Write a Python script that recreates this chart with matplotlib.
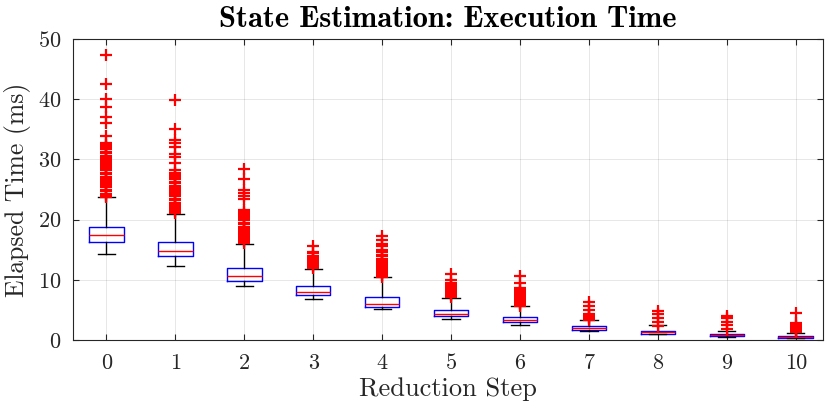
import matplotlib
matplotlib.use("Agg")
import matplotlib.pyplot as plt

plt.rcParams['font.family'] = ['cmr10', 'DejaVu Serif']
plt.rcParams['axes.formatter.use_mathtext'] = True

steps = [0, 1, 2, 3, 4, 5, 6, 7, 8, 9, 10]
q1 = [16.3, 14.0, 9.85, 7.55, 5.48, 3.99, 2.93, 1.72, 1.05, 0.61, 0.39]
med = [17.4, 14.8, 10.7, 7.95, 6.03, 4.25, 3.32, 1.99, 1.33, 0.83, 0.58]
q3 = [18.8, 16.3, 11.9, 9.0, 7.2, 5.04, 3.82, 2.27, 1.55, 1.05, 0.72]
whislo = [14.3, 12.3, 8.9, 6.8, 5.1, 3.55, 2.55, 1.55, 0.94, 0.5, 0.28]
whishi = [23.7, 20.9, 16.0, 11.8, 10.5, 7.03, 5.65, 3.32, 2.5, 1.55, 1.1]
outliers = [
    [47.3, 42.5, 40.1, 38.7, 37.0, 36.1, 33.9, 32.7, 32.4, 32.0, 31.7, 31.3, 31.0,
     30.6, 30.3, 29.9, 29.6, 29.2, 28.9, 28.5, 28.2, 27.8, 27.5, 27.1, 26.8, 26.4,
     26.1, 25.7, 25.4, 25.0, 24.7, 24.3, 24.0, 23.8],
    [39.8, 35.1, 33.3, 32.8, 32.0, 30.9, 30.4, 29.4, 28.3, 27.7, 27.4, 27.0, 26.7,
     26.3, 26.0, 25.6, 25.3, 24.9, 24.6, 24.2, 23.9, 23.5, 23.2, 22.8, 22.5, 22.1,
     21.8, 21.4, 21.1],
    [28.4, 26.7, 24.9, 24.5, 24.0, 23.4, 21.6, 21.3, 20.9, 20.6, 20.2, 19.9, 19.5,
     19.2, 18.8, 18.5, 18.1, 17.8, 17.4, 17.1, 16.7, 16.4, 16.1],
    [15.6, 14.7, 14.4, 14.0, 13.7, 13.3, 13.0, 12.6, 12.3, 11.9],
    [17.3, 16.6, 15.95, 15.6, 14.95, 14.6, 14.2, 13.9, 13.5, 13.2, 12.8, 12.5,
     12.1, 11.8, 11.4, 11.1, 10.8, 10.5],
    [10.9, 9.97, 9.5, 9.2, 8.9, 8.6, 8.3, 8.0, 7.7, 7.4, 7.1],
    [10.6, 9.4, 8.6, 8.3, 8.0, 7.7, 7.4, 7.1, 6.8, 6.5, 6.2, 5.9, 5.7],
    [6.37, 5.7, 5.0, 4.4, 4.1, 3.85, 3.6, 3.4],
    [4.87, 4.26, 3.6, 3.0, 2.38],
    [4.04, 3.6, 3.05, 2.44, 1.83],
    [4.55, 2.8, 2.55, 2.3, 2.05, 1.8, 1.55, 1.3],
]
yticks = [0, 10, 20, 30, 40, 50]

title = "State Estimation: Execution Time"
xlabel = "Reduction Step"
ylabel = "Elapsed Time (ms)"

stats = []
for i in range(len(steps)):
    stats.append(dict(q1=q1[i], med=med[i], q3=q3[i], whislo=whislo[i],
                      whishi=whishi[i], fliers=outliers[i], label=str(steps[i])))

fig = plt.figure(figsize=(8.3, 4.15), dpi=100)
ax = fig.add_axes([0.0876, 0.1807, 0.9043, 0.7253])

ax.bxp(stats, positions=steps, widths=0.5, showfliers=True,
       boxprops=dict(color='#0000ff', linewidth=1.0),
       medianprops=dict(color='#ff0000', linewidth=1.0),
       whiskerprops=dict(color='black', linewidth=1.0, linestyle='-'),
       capprops=dict(color='black', linewidth=1.0),
       flierprops=dict(marker='+', markeredgecolor='#ff0000', markersize=9,
                       markeredgewidth=1.6, linestyle='none'))

ax.set_xlim(-0.49, 10.4)
ax.set_ylim(0, 50)
ax.set_yticks(yticks)
ax.set_xticks(steps)
ax.set_xticklabels([str(s) for s in steps])
ax.grid(True, color='#262626', alpha=0.13, linewidth=0.6)
ax.set_axisbelow(True)
for s in ax.spines.values():
    s.set_color('#262626')
    s.set_linewidth(0.8)
ax.tick_params(direction='in', length=4.5, width=0.8, colors='#262626',
               top=True, right=True, labelsize=16, labelcolor='#262626')
ax.tick_params(axis='x', pad=9.5)
ax.tick_params(axis='y', pad=8)

ax.set_title(title, fontsize=22, fontfamily=['cmb10', 'DejaVu Serif'],
             color='black', pad=9)
ax.set_xlabel(xlabel, fontsize=19, color='#262626', labelpad=3)
ax.set_ylabel(ylabel, fontsize=18.5, color='#262626', labelpad=5)

fig.savefig("out.png", dpi=100)
